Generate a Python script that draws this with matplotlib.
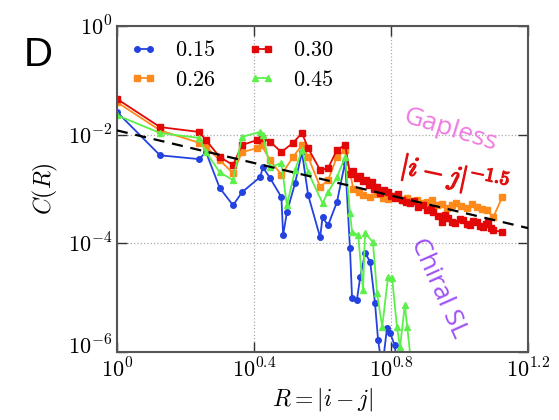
import numpy as np
import matplotlib.pyplot as plt
from matplotlib import patheffects, transforms

plt.rcParams['mathtext.fontset'] = 'cm'
plt.rcParams['font.family'] = 'DejaVu Serif'

# values as log10 exponents
logR_15 = [0, .126, .24, .26, .30, .339, .365, .418, .426, .447, .48, .485, .496, .52, .54, .558,
           .593, .60, .616, .642, .666, .68, .686, .70, .71, .724, .739, .753, .762, .774, .788, .797, .81, .82]
logC_15 = [-1.58, -2.38, -2.45, -2.32, -2.98, -3.30, -3.06, -2.78, -2.60, -2.80, -3.15, -3.85, -3.43, -2.89, -2.32, -3.11,
           -3.89, -3.52, -3.67, -3.24, -2.50, -4.09, -5.0, -5.05, -4.62, -4.18, -4.34, -5.10, -5.78, -6.3, -5.56, -5.65, -5.87, -6.3]

logR_26 = [0, .126, .24, .26, .30, .339, .365, .409, .422, .447, .48, .514, .54, .558, .593, .616, .642, .666,
           .69, .705, .718, .739, .76, .775, .79, .805, .817, .832, .847, .862, .876, .89, .905, .92, .934, .948,
           .963, .977, .99, 1.005, 1.02, 1.035, 1.05, 1.065, 1.08, 1.098, 1.124]
logC_26 = [-1.40, -1.92, -2.15, -2.22, -2.47, -2.71, -2.32, -2.25, -2.19, -2.47, -2.74, -2.41, -2.19, -2.41, -2.96, -2.84, -2.41, -2.28,
           -3.0, -3.06, -3.11, -3.15, -3.10, -3.16, -3.18, -3.12, -3.15, -3.20, -3.17, -3.22, -3.20, -3.26, -3.24, -3.20, -3.30, -3.27,
           -3.35, -3.30, -3.26, -3.31, -3.35, -3.28, -3.33, -3.37, -3.39, -3.52, -3.15]

logR_30 = [0, .126, .24, .26, .30, .339, .365, .409, .422, .447, .48, .514, .54, .558, .593, .616, .642, .666,
           .68, .69, .70, .71, .718, .727, .735, .743, .75, .76, .768, .78, .79, .80, .81, .82, .832, .843, .855, .867,
           .879, .892, .905, .915, .923, .936, .949, .958, .966, .977, .987, 1.0, 1.01, 1.02, 1.03, 1.04,
           1.05, 1.06, 1.069, 1.076, 1.083, 1.09, 1.098, 1.124]
logC_30 = [-1.34, -1.86, -1.95, -2.10, -2.41, -2.56, -2.19, -2.10, -2.06, -2.13, -2.32, -2.15, -1.97, -2.25, -2.65, -2.62, -2.28, -2.19,
           -2.72, -2.66, -2.80, -2.76, -2.85, -2.83, -2.92, -2.88, -3.0, -2.96, -3.08, -3.02, -3.05, -3.12, -3.17, -3.10, -3.20, -3.24,
           -3.26, -3.22, -3.33, -3.30, -3.39, -3.36, -3.43, -3.50, -3.61, -3.48, -3.54, -3.60, -3.63, -3.55, -3.57, -3.64, -3.66, -3.58,
           -3.61, -3.68, -3.70, -3.64, -3.61, -3.72, -3.76, -3.79]

logR_45 = [0, .126, .24, .26, .30, .339, .365, .418, .426, .447, .48, .496, .52, .54, .558, .60, .616, .642, .666,
           .68, .686, .704, .718, .724, .747, .759, .774, .791, .803, .817, .826, .84, .847, .86]
logC_45 = [-1.64, -1.97, -2.06, -2.32, -2.69, -2.84, -2.04, -1.95, -2.01, -2.60, -2.52, -3.30, -2.65, -2.28, -2.69, -3.26, -3.06, -2.78, -2.41,
           -3.44, -3.79, -3.85, -4.86, -3.81, -3.98, -4.92, -5.54, -4.62, -4.64, -5.54, -5.91, -5.14, -5.54, -6.3]

guide_R = [1.0, 15.85]
guide_C = [1.2e-2, 1.9e-4]

series = [
    ('$0.15$', logR_15, logC_15, '#2342e0', 'o', 4),
    ('$0.26$', logR_26, logC_26, '#ff8a1c', 's', 5),
    ('$0.30$', logR_30, logC_30, '#e30808', 's', 5),
    ('$0.45$', logR_45, logC_45, '#5cf04a', '^', 4),
]

fig = plt.figure(figsize=(5.59, 4.20), dpi=100)
ax = fig.add_axes([0.209, 0.162, 0.736, 0.776])

for lab, lr, lc, col, mk, ms in series:
    ax.plot(np.power(10.0, lr), np.power(10.0, lc), '-', marker=mk, color=col, ms=ms,
            mec=col, lw=1.3, label=lab)

ax.plot(guide_R, guide_C, '--', color='black', lw=1.6, dashes=(5, 3.5), zorder=5)

ax.set_xscale('log')
ax.set_yscale('log')
ax.set_xlim(1, 10**1.2)
ax.set_ylim(1e-6, 1)

xt = [1, 10**0.4, 10**0.8, 10**1.2]
ax.set_xticks(xt)
ax.set_xticklabels(['$10^{0}$', '$10^{0.4}$', '$10^{0.8}$', '$10^{1.2}$'])
yt = [1e-6, 1e-4, 1e-2, 1]
ax.set_yticks(yt)
ax.set_yticklabels(['$10^{-6}$', '$10^{-4}$', '$10^{-2}$', '$10^{0}$'])
ax.minorticks_off()
ax.tick_params(which='major', direction='in', length=7, width=1, top=True, right=True,
               labelsize=16, colors='#333333', pad=3)
ax.tick_params(axis='x', pad=5)
for tl in ax.get_xticklabels() + ax.get_yticklabels():
    tl.set_color('black')
# lift the bottom y label a little so it clears the first x label
low = ax.get_yticklabels()[0]
low.set_transform(low.get_transform() + transforms.ScaledTranslation(0, 5 / 72, fig.dpi_scale_trans))
ax.grid(True, ls=':', color='#aaaaaa', lw=0.9)
for sp in ax.spines.values():
    sp.set_color('#555555')
    sp.set_linewidth(1.5)

ax.set_xlabel('$R = |i - j|$', fontsize=17, labelpad=2)
ax.set_ylabel('$C(R)$', fontsize=17, labelpad=6)

leg = ax.legend(loc='upper left', ncol=2, frameon=False, fontsize=16, numpoints=2,
                handlelength=1.2, columnspacing=1.5, handletextpad=0.8, labelspacing=0.35,
                borderaxespad=0.2)

ax.text(9.4, 1.22e-2, 'Gapless', color='#f07ae0', fontsize=19, family='Open Sans',
        rotation=-17, ha='center', va='center', rotation_mode='anchor')
ax.text(9.7, 1.75e-3, r'$|i-j|^{-1.5}$', color='#e01010', fontsize=20,
        rotation=-12, ha='center', va='center', rotation_mode='anchor',
        path_effects=[patheffects.withStroke(linewidth=1.0, foreground='#e01010')])
ax.text(8.7, 1.5e-5, 'Chiral SL', color='#a050f5', fontsize=19, family='Open Sans',
        rotation=-66, ha='center', va='center', rotation_mode='anchor')

fig.text(0.068, 0.869, 'D', fontsize=29, family='Liberation Sans', ha='center', va='center')

fig.savefig('out.png', dpi=100)
